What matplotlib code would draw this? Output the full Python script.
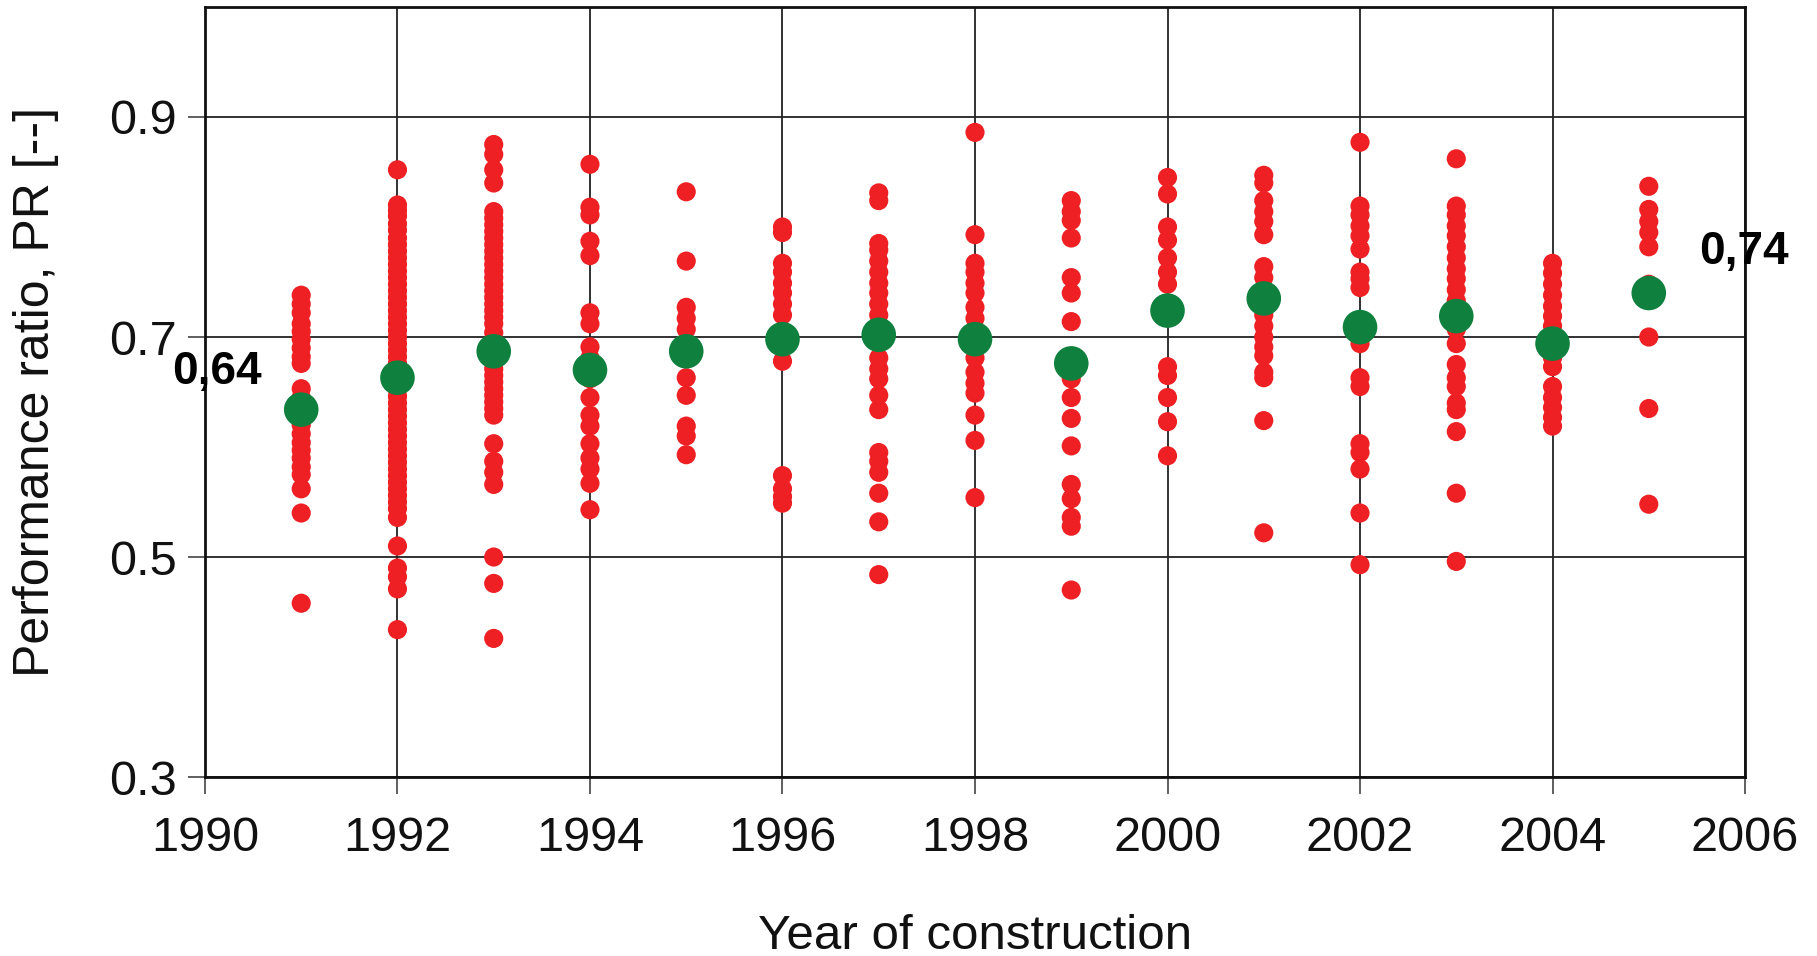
import matplotlib
matplotlib.use("Agg")
import matplotlib.pyplot as plt

plt.rcParams['font.family'] = ['Liberation Sans', 'DejaVu Sans']

# performance ratio per plant, grouped by year of construction
years = [1991, 1992, 1993, 1994, 1995, 1996, 1997, 1998, 1999, 2000, 2001, 2002, 2003, 2004, 2005]

pr_1991 = [0.738, 0.730, 0.722, 0.712, 0.705, 0.698, 0.690, 0.682, 0.676, 0.653, 0.645,
           0.620, 0.612, 0.604, 0.597, 0.590, 0.582, 0.575, 0.562, 0.540, 0.458]
pr_1992 = [0.852, 0.820, 0.815, 0.810, 0.803, 0.797, 0.790, 0.784, 0.778, 0.772, 0.766,
           0.760, 0.754, 0.748, 0.742, 0.736, 0.730, 0.724, 0.718, 0.712, 0.706, 0.700,
           0.694, 0.688, 0.682, 0.676, 0.670, 0.664, 0.658, 0.652, 0.646, 0.640, 0.634,
           0.628, 0.622, 0.616, 0.610, 0.604, 0.598, 0.592, 0.586, 0.580, 0.574, 0.568,
           0.562, 0.556, 0.550, 0.544, 0.536, 0.510, 0.490, 0.482, 0.471, 0.434]
pr_1993 = [0.875, 0.866, 0.852, 0.840, 0.814, 0.808, 0.802, 0.796, 0.790, 0.784, 0.778,
           0.772, 0.766, 0.760, 0.754, 0.748, 0.742, 0.736, 0.730, 0.724, 0.718, 0.712,
           0.704, 0.671, 0.665, 0.659, 0.653, 0.647, 0.641, 0.635, 0.629, 0.603, 0.587,
           0.577, 0.566, 0.500, 0.476, 0.426]
pr_1994 = [0.857, 0.818, 0.811, 0.787, 0.774, 0.722, 0.712, 0.691, 0.681, 0.662, 0.645,
           0.629, 0.619, 0.603, 0.590, 0.580, 0.567, 0.543]
pr_1995 = [0.832, 0.769, 0.727, 0.717, 0.707, 0.663, 0.647, 0.619, 0.610, 0.593]
pr_1996 = [0.800, 0.795, 0.767, 0.759, 0.749, 0.740, 0.730, 0.720, 0.678, 0.574, 0.562,
           0.555, 0.549]
pr_1997 = [0.831, 0.824, 0.785, 0.779, 0.769, 0.759, 0.749, 0.740, 0.730, 0.720, 0.710,
           0.681, 0.671, 0.662, 0.647, 0.634, 0.595, 0.587, 0.577, 0.558, 0.532, 0.484]
pr_1998 = [0.886, 0.793, 0.767, 0.759, 0.749, 0.740, 0.727, 0.717, 0.681, 0.668, 0.658,
           0.649, 0.629, 0.606, 0.554]
pr_1999 = [0.824, 0.814, 0.806, 0.790, 0.754, 0.740, 0.714, 0.662, 0.645, 0.626, 0.601,
           0.566, 0.553, 0.536, 0.528, 0.470]
pr_2000 = [0.845, 0.830, 0.800, 0.788, 0.772, 0.759, 0.748, 0.673, 0.665, 0.645, 0.623,
           0.592]
pr_2001 = [0.847, 0.840, 0.824, 0.814, 0.805, 0.793, 0.764, 0.754, 0.720, 0.710, 0.700,
           0.691, 0.683, 0.668, 0.663, 0.624, 0.522]
pr_2002 = [0.877, 0.819, 0.811, 0.801, 0.792, 0.780, 0.759, 0.753, 0.745, 0.694, 0.663,
           0.655, 0.603, 0.595, 0.580, 0.540, 0.493]
pr_2003 = [0.862, 0.819, 0.811, 0.801, 0.792, 0.782, 0.772, 0.762, 0.753, 0.743, 0.733,
           0.707, 0.694, 0.675, 0.663, 0.655, 0.640, 0.634, 0.614, 0.558, 0.496]
pr_2004 = [0.767, 0.758, 0.748, 0.738, 0.728, 0.719, 0.710, 0.681, 0.673, 0.655, 0.645,
           0.636, 0.627, 0.619]
pr_2005 = [0.837, 0.816, 0.805, 0.795, 0.782, 0.748, 0.700, 0.635, 0.548]

pr_by_year = [pr_1991, pr_1992, pr_1993, pr_1994, pr_1995, pr_1996, pr_1997, pr_1998,
              pr_1999, pr_2000, pr_2001, pr_2002, pr_2003, pr_2004, pr_2005]

# yearly mean PR (green)
pr_mean = [0.634, 0.663, 0.687, 0.670, 0.687, 0.698, 0.702, 0.698, 0.676, 0.724,
           0.735, 0.709, 0.719, 0.694, 0.740]

x_ticks = [1990, 1992, 1994, 1996, 1998, 2000, 2002, 2004, 2006]
y_ticks = [0.3, 0.5, 0.7, 0.9]

fig = plt.figure(figsize=(18.17, 9.56), dpi=100)
ax = fig.add_axes([0.1128, 0.1872, 0.8476, 0.8055])

for yr, vals in zip(years, pr_by_year):
    ax.scatter([yr] * len(vals), vals, s=190, color='#ee2024', edgecolors='none', zorder=3)

ax.scatter(years, pr_mean, s=620, color='#10803f', edgecolors='none', zorder=4)

ax.text(1990.125, 0.668, '0,64', fontsize=33, fontweight='bold', ha='center', va='center',
        clip_on=False, zorder=5)
ax.text(2005.99, 0.777, '0,74', fontsize=33, fontweight='bold', ha='center', va='center',
        clip_on=False, zorder=5)

ax.set_xlim(1990, 2006)
ax.set_ylim(0.3, 1.0)
ax.set_xticks(x_ticks)
ax.set_yticks(y_ticks)
ax.set_yticklabels(['%.1f' % v for v in y_ticks])
ax.grid(True, color='#222222', linewidth=1.3, zorder=1)
ax.set_axisbelow(True)

ax.tick_params(axis='both', direction='out', length=12, width=1.2, color='#444444',
               labelsize=35, labelcolor='#111111')
ax.tick_params(axis='x', pad=16)
ax.tick_params(axis='y', pad=8)
for sp in ax.spines.values():
    sp.set_linewidth(2.0)
    sp.set_color('#111111')

ax.set_xlabel('Year of construction', fontsize=35.5, color='#111111', labelpad=38)
ax.set_ylabel('Performance ratio, PR [--]', fontsize=36, color='#111111', labelpad=36)

fig.savefig('out.png', dpi=100)
